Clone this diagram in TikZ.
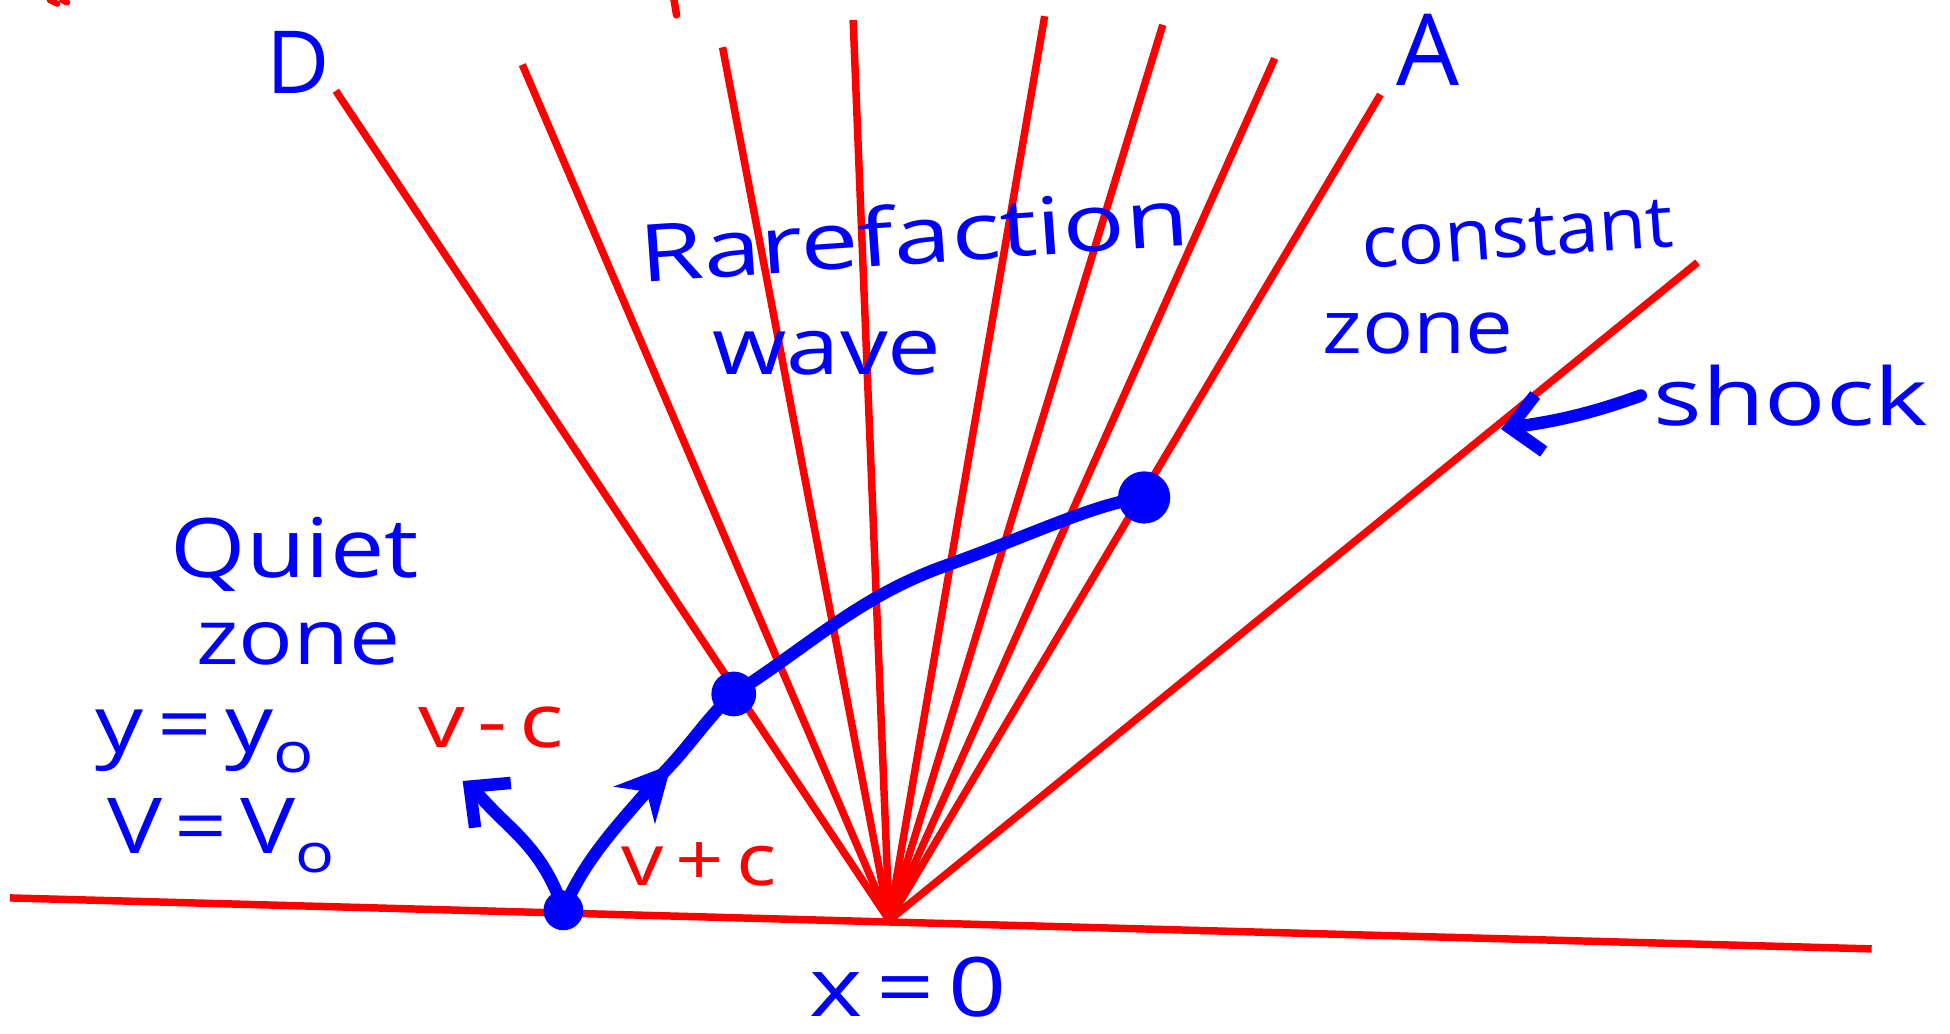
\documentclass[tikz,border=0pt]{standalone}
\usepackage{fontspec}
\setmainfont{Open Sans}
\usetikzlibrary{arrows.meta,decorations.markings}
\newcommand\wfont[2]{\fontsize{#1}{#1}\selectfont\addfontfeature{FakeStretch=#2}}
\begin{document}
\begin{tikzpicture}[x=1pt,y=-1pt,
  ray/.style={red, line width=6pt},
  ink/.style={blue, line width=10pt, line cap=round, line join=round},
  lbl/.style={blue, inner sep=0pt},
  rlbl/.style={red, inner sep=0pt},
  dot/.style={circle, fill=blue, inner sep=0pt, minimum size=#1},
  barb/.style={-{Straight Barb[length=24pt,width=46pt,line width=10pt]}},
]
\useasboundingbox (0,0) rectangle (1568,831);
% base and apex
\coordinate (O) at (715,740);
\coordinate (L) at (8,722);
\coordinate (R) at (1505,763);
\draw[ray] (L) -- (R);
% rays
\coordinate (r1) at (270,73);
\coordinate (r2) at (420,52);
\coordinate (r3) at (581,38);
\coordinate (r4) at (686,16);
\coordinate (r5) at (840,13);
\coordinate (r6) at (935,20);
\coordinate (r7) at (1025,47);
\coordinate (r8) at (1110,76);
\coordinate (r9) at (1365,211);
\foreach \r in {r1,r2,r3,r4,r5,r6,r7,r8,r9} \draw[ray] (O) -- (\r);
% small cut-off red marks at top
\draw[red, line width=6pt, line cap=round] (542,0) -- (544,12);
\draw[red, line width=5pt, line cap=round] (40,0) -- (46,3) (50,0) -- (54,2);
% labels
\node[lbl, font=\wfont{70}{1}] (D) at (240,50) {D};
\node[lbl, font=\wfont{80}{1}] (A) at (1148,40) {A};
\node[lbl, font=\wfont{64}{1.3}, rotate=4] (rare) at (735,188) {Rarefaction};
\node[lbl, font=\wfont{64}{1.2}] (wave) at (665,284) {wave};
\node[lbl, font=\wfont{58}{1.07}, rotate=4] (const) at (1220,188) {constant};
\node[lbl, font=\wfont{60}{1.14}] (zone1) at (1140,268) {zone};
\node[lbl, font=\wfont{64}{1.28}] (shock) at (1440,318) {shock};
\node[lbl, font=\wfont{66}{1.18}] (quiet) at (237,446) {Quiet};
\node[lbl, font=\wfont{62}{1.18}] (zone2) at (240,518) {zone};
\node[lbl, font=\wfont{64}{1.2}] (yeq) at (165,596) {y\,=\,y\textsubscript{o}};
\node[lbl, font=\wfont{62}{1.2}] (veq) at (178,672) {V\,=\,V\textsubscript{o}};
\node[lbl, font=\wfont{66}{1.24}] (xeq) at (730,794) {x\,=\,0};
\node[rlbl, font=\wfont{60}{1.25}] (vmc) at (395,585) {v\,-\,c};
\node[rlbl, font=\wfont{58}{1.17}] (vpc) at (562,695) {v\,+\,c};
% points and blue curves
\node[dot=32pt] (p1) at (453,732) {};
\node[dot=36pt] (p2) at (590,558) {};
\node[dot=42pt] (p3) at (920,400) {};
\coordinate (vmcEnd) at (372,628);
\draw[ink, barb] (p1.center) .. controls (440,690) and (415,670) .. (400,655)
  .. controls (390,645) and (382,636) .. (vmcEnd);
\draw[ink, decoration={markings, mark=at position 0.66 with {\arrow{Stealth[length=44pt,width=44pt]}}}, postaction={decorate}]
  (p1.center) .. controls (470,690) and (500,660) .. (530,625)
  .. controls (555,600) and (570,575) .. (p2.center);
\draw[ink] (p2.center) .. controls (650,520) and (690,480) .. (760,455)
  .. controls (830,430) and (880,405) .. (p3.center);
\coordinate (shockTip) at (1207,345);
\draw[ink, barb] ([xshift=-10pt]shock.west) .. controls (1270,336) and (1240,340) .. (shockTip);
\end{tikzpicture}
\end{document}
